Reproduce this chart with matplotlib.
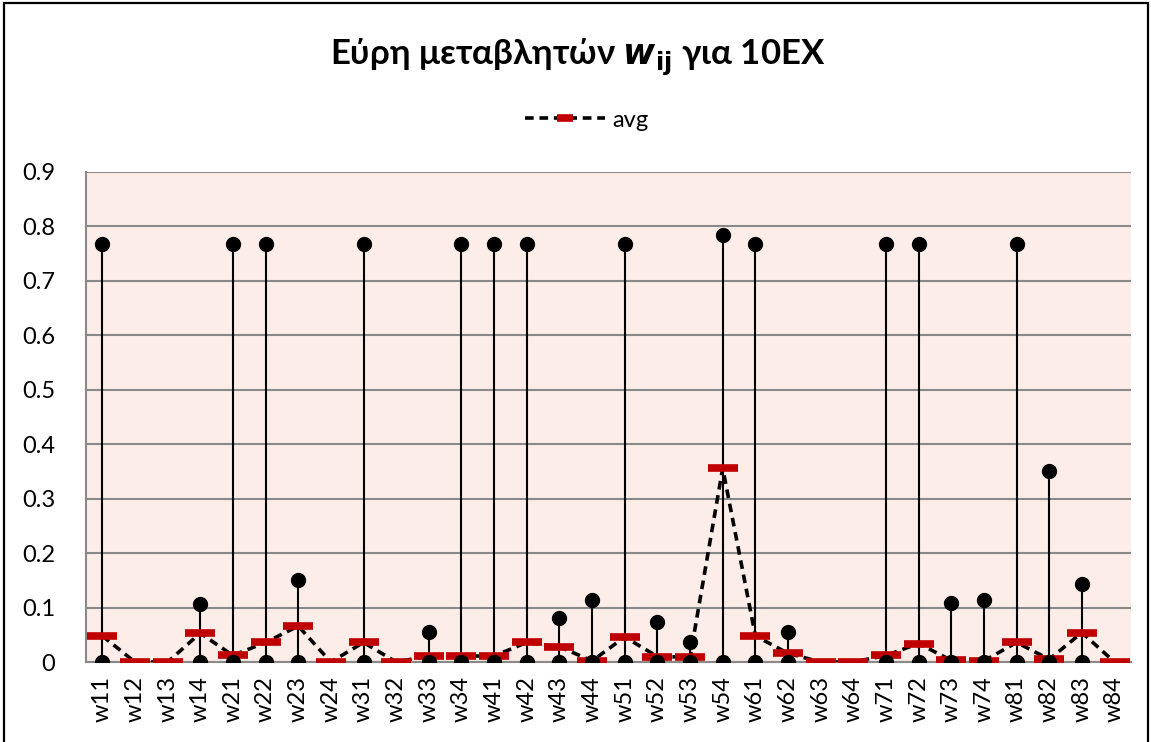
import numpy as np
import matplotlib
matplotlib.use("Agg")
import matplotlib.pyplot as plt
from matplotlib.patches import Rectangle

plt.rcParams['font.family'] = ['Lato', 'Open Sans', 'DejaVu Sans']

labels = ["w11", "w12", "w13", "w14", "w21", "w22", "w23", "w24",
          "w31", "w32", "w33", "w34", "w41", "w42", "w43", "w44",
          "w51", "w52", "w53", "w54", "w61", "w62", "w63", "w64",
          "w71", "w72", "w73", "w74", "w81", "w82", "w83", "w84"]

# max / min of each variable (nan = no marker shown)
w_max = [0.767, np.nan, np.nan, 0.106, 0.767, 0.767, 0.151, np.nan,
         0.767, np.nan, 0.055, 0.767, 0.767, 0.767, 0.081, 0.114,
         0.767, 0.074, 0.037, 0.784, 0.767, 0.056, np.nan, np.nan,
         0.767, 0.767, 0.108, 0.114, 0.767, 0.351, 0.144, np.nan]
w_min = [0.0, np.nan, np.nan, 0.0, 0.0, 0.0, 0.0, np.nan,
         0.0, np.nan, 0.0, 0.0, 0.0, 0.0, 0.0, 0.0,
         0.0, 0.0, 0.0, 0.0, 0.0, 0.0, np.nan, np.nan,
         0.0, 0.0, 0.0, 0.0, 0.0, 0.0, 0.0, np.nan]
w_avg = [0.048, 0.0, 0.0, 0.053, 0.012, 0.036, 0.066, 0.0,
         0.036, 0.0, 0.011, 0.011, 0.011, 0.036, 0.028, 0.002,
         0.046, 0.010, 0.009, 0.356, 0.048, 0.016, 0.0, 0.0,
         0.012, 0.034, 0.003, 0.002, 0.036, 0.005, 0.054, 0.0]

x = np.arange(len(labels))

fig = plt.figure(figsize=(11.51, 7.42), dpi=100)
ax = fig.add_axes([0.0747, 0.1078, 0.9078, 0.6604])
ax.set_facecolor("#FCEDE8")

# chart border
fig.patches.append(Rectangle((0.0035, -0.01), 0.9935, 1.006, transform=fig.transFigure,
                             fill=False, edgecolor="black", linewidth=1.6))

ax.vlines(x, w_min, w_max, color="black", linewidth=1.5, zorder=3)
avg_line, = ax.plot(x, w_avg, linestyle=(0, (2.4, 1.6)), color="black", linewidth=2.6,
                    marker="_", markersize=22, markeredgewidth=5.5,
                    markeredgecolor="#C00000", zorder=4, label="avg")
ax.plot(x, w_max, linestyle="none", marker="o", markersize=10, color="black", zorder=5)
ax.plot(x, w_min, linestyle="none", marker="o", markersize=10, color="black", zorder=5)

ax.set_xlim(-0.5, len(labels) - 0.5)
ax.set_ylim(0, 0.9)
ax.set_yticks(np.arange(0, 0.91, 0.1))
ax.set_yticklabels(["0"] + [f"{v:.1f}" for v in np.arange(0.1, 0.91, 0.1)], fontsize=17)
ax.set_xticks(x)
ax.set_xticklabels(labels, rotation=90, fontsize=17)
ax.tick_params(length=0, pad=10)
ax.tick_params(axis="y", pad=22)

ax.grid(axis="y", color="#898989", linewidth=1.5)
ax.set_axisbelow(True)
for side in ["top", "right"]:
    ax.spines[side].set_visible(False)
ax.spines["left"].set_color("#898989")
ax.spines["left"].set_linewidth(1.5)
ax.spines["bottom"].set_color("#898989")
ax.spines["bottom"].set_linewidth(1.5)

fig.text(0.502, 0.922, r"Εύρη μεταβλητών $\boldsymbol{w}_{\mathbf{ij}}$ για 10EX",
         ha="center", va="center", fontsize=25, fontweight="bold")

leg = fig.legend(handles=[avg_line], loc="center", bbox_to_anchor=(0.51, 0.838),
                 frameon=False, fontsize=17, handlelength=3.4, handletextpad=0.3)
leg.legend_handles[0].set_markersize(12)

fig.savefig("out.png", dpi=100)
